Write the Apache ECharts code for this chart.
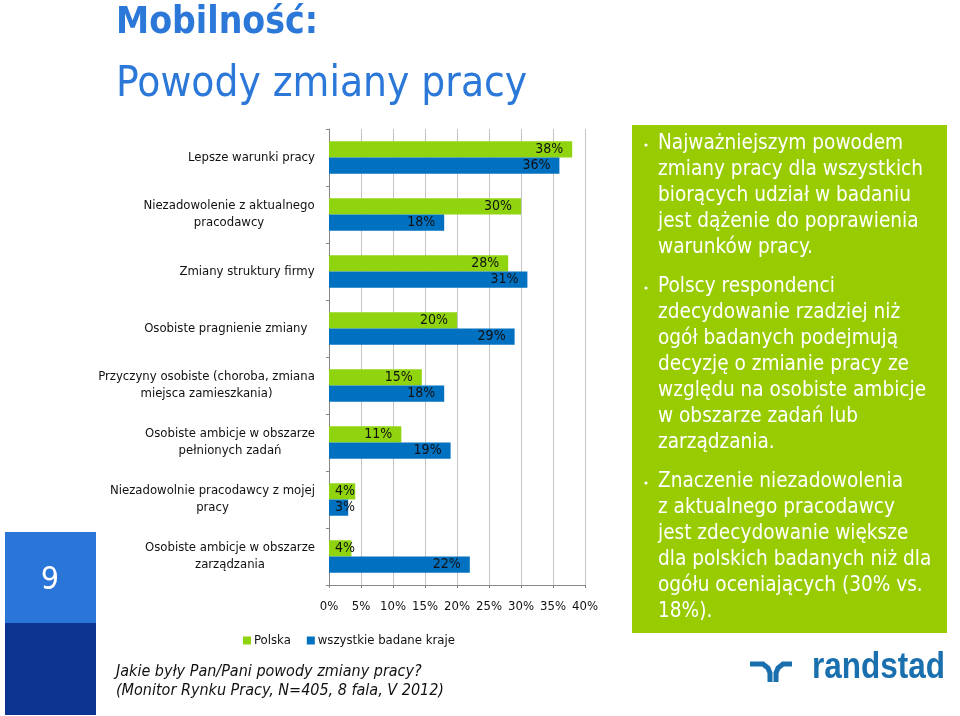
<!DOCTYPE html>
<html>
<head>
<meta charset="utf-8">
<title>Mobilność</title>
<script src="https://cdn.jsdelivr.net/npm/echarts@6/dist/echarts.min.js"></script>
<style>
html, body { margin: 0; padding: 0; background: #fff; }
#result { width: 960px; height: 716px; }
</style>
</head>
<body>
<div id="result"></div>
<script>
// dane wykresu
var categories = [
    'Lepsze warunki pracy',
    'Niezadowolenie z aktualnego\npracodawcy',
    'Zmiany struktury firmy',
    'Osobiste pragnienie zmiany\u00a0\u00a0',
    'Przyczyny osobiste (choroba, zmiana\nmiejsca zamieszkania)',
    'Osobiste ambicje w obszarze\npełnionych zadań',
    'Niezadowolnie pracodawcy z mojej\npracy',
    'Osobiste ambicje w obszarze\nzarządzania'
];
var polska = [38, 30, 28, 20, 14.5, 11.3, 4.1, 3.5];
var wszystkie = [36, 18, 31, 29, 18, 19, 3, 22];
var seriesNames = ['Polska', 'wszystkie badane kraje'];
var bullets = [
    'Najważniejszym powodem\nzmiany pracy dla wszystkich\nbiorących udział w badaniu\njest dążenie do poprawienia\nwarunków pracy.',
    'Polscy respondenci\nzdecydowanie rzadziej niż\nogół badanych podejmują\ndecyzję o zmianie pracy ze\nwzględu na osobiste ambicje\nw obszarze zadań lub\nzarządzania.',
    'Znaczenie niezadowolenia\nz aktualnego pracodawcy\njest zdecydowanie większe\ndla polskich badanych niż dla\nogółu oceniających (30% vs.\n18%).'
];
var bulletTops = [131, 274, 469];

var FONT = '"DejaVu Sans Condensed", "DejaVu Sans"';
var LABEL_SIZE = 13;

// szerokosc najdluzszej linii - linie etykiety sa centrowane w bloku
var ctx = document.createElement('canvas').getContext('2d');
ctx.font = LABEL_SIZE + 'px ' + FONT;
var rich = {};
categories.forEach(function (c, i) {
    var w = 0;
    c.split('\n').forEach(function (l) { w = Math.max(w, ctx.measureText(l).width); });
    rich['c' + i] = { width: Math.ceil(w), align: 'center', lineHeight: 17, fontSize: LABEL_SIZE, fontFamily: FONT, color: '#111' };
});

function barData(arr) {
    return arr.map(function (v) {
        // male slupki: etykieta wystaje poza slupek
        return v < 5 ? { value: v, label: { position: 'insideLeft', distance: 6 } } : v;
    });
}

function barSeries(name, arr, color) {
    return {
        name: name,
        type: 'bar',
        barGap: 0,
        barCategoryGap: '43%',
        itemStyle: { color: color },
        label: {
            show: true,
            position: 'insideRight',
            distance: 9,
            color: '#111',
            fontFamily: FONT,
            fontSize: 14,
            formatter: function (p) { return Math.round(p.value) + '%'; }
        },
        data: barData(arr)
    };
}

var graphic = [
    { type: 'text', x: 116, y: 5, style: { text: 'Mobilność:', font: 'bold 37px ' + FONT, fill: '#2b78d8' } },
    { type: 'text', x: 116, y: 64, style: { text: 'Powody zmiany pracy', font: '42px ' + FONT, fill: '#2b78d8' } },
    // numer slajdu
    { type: 'rect', shape: { x: 5, y: 532, width: 91, height: 91 }, style: { fill: '#2a75d8' } },
    { type: 'rect', shape: { x: 5, y: 623, width: 91, height: 92 }, style: { fill: '#0a348f' } },
    { type: 'text', x: 50, y: 581, style: { text: '9', font: '32px ' + FONT, fill: '#fff', align: 'center', verticalAlign: 'middle' } },
    // pytanie
    { type: 'text', x: 116, y: 663, style: { text: 'Jakie były Pan/Pani powody zmiany pracy?\n(Monitor Rynku Pracy, N=405, 8 fala, V 2012)', font: 'italic 16px ' + FONT, fill: '#111', lineHeight: 18.5 } },
    // zielona ramka
    { type: 'rect', z: -1, shape: { x: 632, y: 125, width: 315, height: 508 }, style: { fill: '#99cc00' } },
    // logo
    { type: 'polyline', shape: { points: [[750, 664], [763, 664], [768, 668], [770, 673], [770, 682]] }, style: { fill: 'none', stroke: '#1a6fae', lineWidth: 5 } },
    { type: 'polyline', shape: { points: [[792, 664], [783, 664], [778, 668], [776, 673], [776, 682]] }, style: { fill: 'none', stroke: '#1a6fae', lineWidth: 5 } },
    { type: 'text', x: 812, y: 648, scaleY: 1.2, style: { text: 'randstad', font: 'bold 31.5px "Liberation Sans"', fill: '#1a6fae' } }
];
bullets.forEach(function (b, i) {
    graphic.push({ type: 'text', x: 658, y: bulletTops[i], style: { text: b, font: '20.6px ' + FONT, fill: '#fff', lineHeight: 26 } });
    graphic.push({ type: 'circle', shape: { cx: 646, cy: bulletTops[i] + 14, r: 1.6 }, style: { fill: '#fff' } });
});

var option = {
    animation: false,
    grid: { left: 329, width: 256, top: 129, height: 456 },
    legend: {
        left: 238,
        top: 629,
        icon: 'rect',
        itemWidth: 8,
        itemHeight: 8,
        itemGap: 16,
        textStyle: { color: '#111', fontFamily: FONT, fontSize: LABEL_SIZE, padding: [0, 0, 0, -2] },
        data: seriesNames
    },
    xAxis: {
        type: 'value',
        min: 0,
        max: 40,
        interval: 5,
        axisLine: { show: true, lineStyle: { color: '#868686' } },
        axisTick: { show: true, length: 3, lineStyle: { color: '#868686' } },
        axisLabel: { margin: 15, color: '#111', fontFamily: FONT, fontSize: LABEL_SIZE, formatter: '{value}%' },
        splitLine: { show: true, lineStyle: { color: '#c4c4c4', width: 1 } }
    },
    yAxis: {
        type: 'category',
        inverse: true,
        data: categories,
        axisLine: { lineStyle: { color: '#868686' } },
        axisTick: { show: true, length: 3, lineStyle: { color: '#868686' } },
        axisLabel: {
            margin: 14,
            interval: 0,
            align: 'right',
            rich: rich,
            formatter: function (v) {
                var i = categories.indexOf(v);
                return v.split('\n').map(function (l) { return '{c' + i + '|' + l + '}'; }).join('\n');
            }
        }
    },
    series: [
        barSeries(seriesNames[0], polska, '#8fd40f'),
        barSeries(seriesNames[1], wszystkie, '#0070c0')
    ],
    graphic: graphic
};

var myResult = echarts.init(document.getElementById('result'));
myResult.setOption(option);
</script>
</body>
</html>
